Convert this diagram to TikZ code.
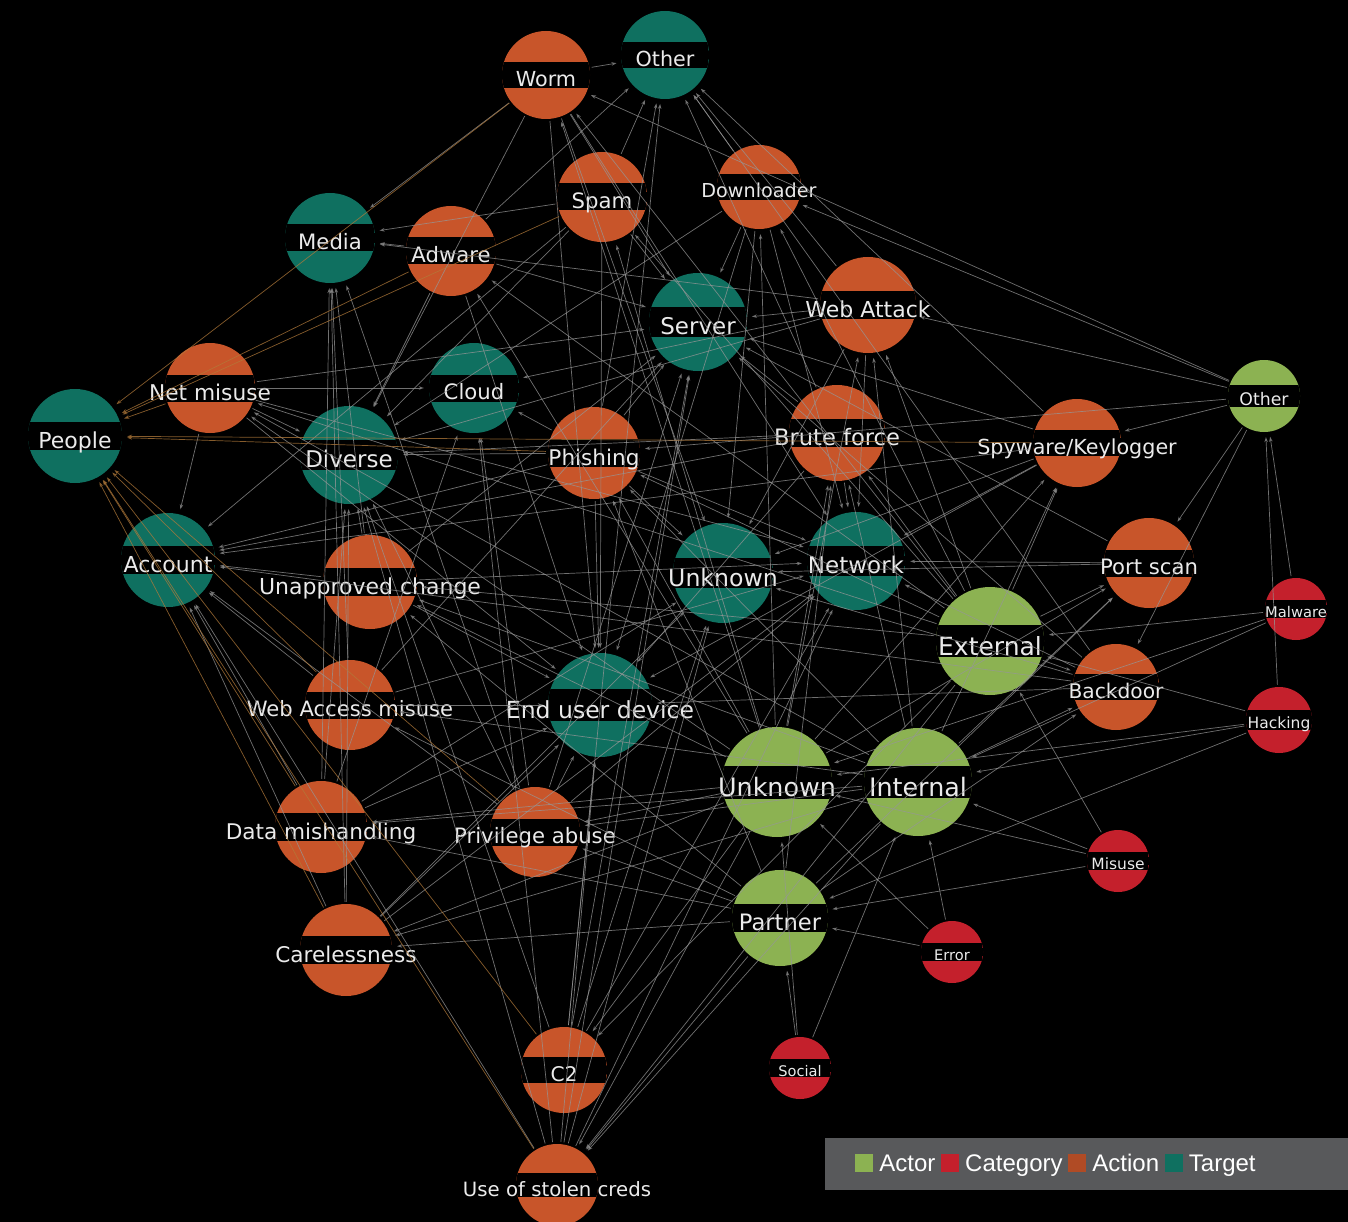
\documentclass[tikz,border=0pt]{standalone}
\usepackage{fontspec}
\setmainfont{DejaVu Sans}
\newfontfamily\legfont{Liberation Sans}
\usetikzlibrary{arrows.meta,positioning}
\definecolor{actc}{RGB}{200,85,42}
\definecolor{tgtc}{RGB}{15,112,96}
\definecolor{actorc}{RGB}{140,178,82}
\definecolor{catc}{RGB}{196,32,44}
\definecolor{lnkc}{RGB}{150,150,150}
\definecolor{lnkpc}{RGB}{178,122,58}
\definecolor{legbg}{RGB}{88,89,91}

\begin{document}
\begin{tikzpicture}[x=1pt,y=-1pt,
  vx/.style={circle,inner sep=0pt,minimum size=2*#1,
    path picture={\fill[black] ([yshift=0.3*#1]path picture bounding box.west)
      rectangle ([yshift=-0.3*#1]path picture bounding box.east);}},
  act/.style={fill=actc},
  tgt/.style={fill=tgtc},
  actor/.style={fill=actorc},
  cat/.style={fill=catc},
  fs/.style={font=\fontsize{#1}{#1}\selectfont,text height=1.13*#1,text depth=0,
    inner sep=0pt,text=white!92!black},
  lnk/.style={draw=lnkc,opacity=0.75,line width=0.7pt,shorten <=2pt,shorten >=5pt,
    -{Stealth[length=5pt,width=3.5pt]}},
  lnkp/.style={lnk,draw=lnkpc},
  lgsq/.style={minimum size=18,inner sep=0pt},
  lgtx/.style={font=\legfont\fontsize{24}{24}\selectfont,text=white,inner sep=0pt,
    text height=17.2,text depth=0}]
  \useasboundingbox (0,0) rectangle (1348,1222);
  \fill[black] (0,0) rectangle (1348,1222);

  \node[tgt,vx=44] (tOth) at (665,55) {};        \node[fs=20.7] (tOth-t) at (tOth) {Other};
  \node[tgt,vx=45] (media) at (330,238) {};      \node[fs=21.2] (media-t) at (media) {Media};
  \node[tgt,vx=49] (server) at (698,322) {};     \node[fs=23] (server-t) at (server) {Server};
  \node[tgt,vx=45] (cloud) at (474,388) {};      \node[fs=21.2] (cloud-t) at (cloud) {Cloud};
  \node[tgt,vx=47] (people) at (75,436) {};      \node[fs=22] (people-t) at (people) {People};
  \node[tgt,vx=49] (diverse) at (349,455) {};    \node[fs=23] (diverse-t) at (diverse) {Diverse};
  \node[tgt,vx=47] (account) at (168,560) {};    \node[fs=22] (account-t) at (account) {Account};
  \node[tgt,vx=50] (tUnk) at (723,573) {};       \node[fs=23.6] (tUnk-t) at (tUnk) {Unknown};
  \node[tgt,vx=49] (network) at (856,561) {};    \node[fs=23] (network-t) at (network) {Network};
  \node[tgt,vx=52] (eud) at (600,705) {};        \node[fs=23.5] (eud-t) at (eud) {End user device};

  \node[act,vx=44] (worm) at (546,75) {};        \node[fs=20.7] (worm-t) at (worm) {Worm};
  \node[act,vx=45] (spam) at (602,197) {};       \node[fs=21.2] (spam-t) at (spam) {Spam};
  \node[act,vx=42] (downl) at (759,187) {};      \node[fs=19.2] (downl-t) at (downl) {Downloader};
  \node[act,vx=45] (adware) at (451,251) {};     \node[fs=21.2] (adware-t) at (adware) {Adware};
  \node[act,vx=48] (webatk) at (868,305) {};     \node[fs=22] (webatk-t) at (webatk) {Web Attack};
  \node[act,vx=45] (netmis) at (210,388) {};     \node[fs=21.7] (netmis-t) at (netmis) {Net misuse};
  \node[act,vx=46] (phish) at (594,453) {};      \node[fs=21.6] (phish-t) at (phish) {Phishing};
  \node[act,vx=48] (brute) at (837,433) {};      \node[fs=22.6] (brute-t) at (brute) {Brute force};
  \node[act,vx=44] (spyware) at (1077,443) {};   \node[fs=20.7] (spyware-t) at (spyware) {Spyware/Keylogger};
  \node[act,vx=47] (unapp) at (370,582) {};      \node[fs=22] (unapp-t) at (unapp) {Unapproved change};
  \node[act,vx=45] (portscan) at (1149,563) {};  \node[fs=21.2] (portscan-t) at (portscan) {Port scan};
  \node[act,vx=43] (backdoor) at (1116,687) {};  \node[fs=20.2] (backdoor-t) at (backdoor) {Backdoor};
  \node[act,vx=45] (webacc) at (350,705) {};     \node[fs=21.1] (webacc-t) at (webacc) {Web Access misuse};
  \node[act,vx=46] (datamis) at (321,827) {};    \node[fs=21.6] (datamis-t) at (datamis) {Data mishandling};
  \node[act,vx=45] (priv) at (535,832) {};       \node[fs=21.2] (priv-t) at (priv) {Privilege abuse};
  \node[act,vx=46] (careless) at (346,950) {};   \node[fs=21.6] (careless-t) at (careless) {Carelessness};
  \node[act,vx=43] (ctwo) at (564,1070) {};      \node[fs=20.2] (ctwo-t) at (ctwo) {C2};
  \node[act,vx=41] (stolen) at (557,1185) {};    \node[fs=19.7] (stolen-t) at (stolen) {Use of stolen creds};

  \node[actor,vx=36] (aOth) at (1264,396) {};    \node[fs=17.3] (aOth-t) at (aOth) {Other};
  \node[actor,vx=54] (aExt) at (990,641) {};     \node[fs=25] (aExt-t) at (aExt) {External};
  \node[actor,vx=55] (aUnk) at (777,782) {};     \node[fs=25.4] (aUnk-t) at (aUnk) {Unknown};
  \node[actor,vx=54] (aInt) at (918,782) {};     \node[fs=25.4] (aInt-t) at (aInt) {Internal};
  \node[actor,vx=48] (aPar) at (780,918) {};     \node[fs=22.6] (aPar-t) at (aPar) {Partner};

  \node[cat,vx=31] (cMal) at (1296,609) {};      \node[fs=14.7] (cMal-t) at (cMal) {Malware};
  \node[cat,vx=33] (cHack) at (1279,720) {};     \node[fs=15.5] (cHack-t) at (cHack) {Hacking};
  \node[cat,vx=31] (cMis) at (1118,861) {};      \node[fs=15.5] (cMis-t) at (cMis) {Misuse};
  \node[cat,vx=31] (cErr) at (952,952) {};       \node[fs=14.6] (cErr-t) at (cErr) {Error};
  \node[cat,vx=31] (cSoc) at (800,1068) {};      \node[fs=14.6] (cSoc-t) at (cSoc) {Social};

  \path[lnk]
  (cMal) edge (aOth) edge (aExt) edge (aInt) edge (aUnk)
  (cHack) edge (aOth) edge (aExt) edge (aInt) edge (aUnk) edge (aPar)
  (cMis) edge (aInt) edge (aPar) edge (aUnk) edge (aExt)
  (cErr) edge (aInt) edge (aPar) edge (aUnk)
  (cSoc) edge (aPar) edge (aInt) edge (aUnk)
  (aExt) edge (worm) edge (spam) edge (downl) edge (adware) edge (webatk) edge (phish) edge (brute)
  edge (spyware) edge (portscan) edge (backdoor) edge (ctwo) edge (stolen) edge (netmis) edge (unapp)
  (aInt) edge (netmis) edge (unapp) edge (webacc) edge (datamis) edge (priv) edge (careless)
  edge (stolen) edge (spyware) edge (backdoor) edge (brute) edge (phish) edge (portscan) edge (webatk)
  (aPar) edge (datamis) edge (priv) edge (careless) edge (stolen) edge (webacc) edge (unapp)
  edge (backdoor) edge (portscan) edge (phish) edge (brute)
  (aUnk) edge (worm) edge (spam) edge (downl) edge (adware) edge (webatk) edge (phish) edge (brute)
  edge (spyware) edge (ctwo) edge (stolen) edge (careless) edge (datamis) edge (priv) edge (portscan)
  edge (netmis) edge (unapp)
  (aOth) edge (spyware) edge (portscan) edge (webatk) edge (worm) edge (downl) edge (phish) edge (backdoor)
  (worm) edge (tOth) edge (server) edge (network) edge (eud) edge (diverse) edge (media) edge (tUnk)
  (spam) edge (tOth) edge (media) edge (server) edge (eud) edge (account) edge (diverse)
  (downl) edge (tOth) edge (server) edge (eud) edge (network) edge (diverse) edge (tUnk)
  (adware) edge (media) edge (eud) edge (tOth) edge (diverse) edge (server)
  (webatk) edge (server) edge (tOth) edge (cloud) edge (media) edge (diverse) edge (tUnk) edge (network)
  (netmis) edge (network) edge (eud) edge (diverse) edge (account) edge (cloud) edge (server)
  (phish) edge (account) edge (eud) edge (server) edge (diverse) edge (tUnk) edge (cloud) edge (tOth)
  edge (network)
  (brute) edge (server) edge (account) edge (network) edge (tOth) edge (diverse) edge (eud)
  (spyware) edge (eud) edge (account) edge (tOth) edge (tUnk) edge (server) edge (network)
  (unapp) edge (server) edge (network) edge (eud) edge (diverse) edge (account) edge (media)
  (portscan) edge (network) edge (server) edge (tUnk)
  (backdoor) edge (server) edge (eud) edge (network) edge (tUnk) edge (tOth) edge (account)
  (webacc) edge (network) edge (eud) edge (account) edge (media) edge (server)
  (datamis) edge (media) edge (diverse) edge (account) edge (eud) edge (cloud) edge (tUnk)
  (priv) edge (account) edge (server) edge (diverse) edge (eud) edge (media) edge (cloud) edge (network)
  (careless) edge (media) edge (diverse) edge (account) edge (eud) edge (tUnk) edge (network)
  (ctwo) edge (server) edge (eud) edge (network) edge (tOth) edge (diverse) edge (tUnk)
  (stolen) edge (account) edge (server) edge (cloud) edge (eud) edge (diverse) edge (tUnk) edge (network)
  ;
  \path[lnkp]
  (worm) edge (people) (spam) edge (people) (adware) edge (people) (netmis) edge (people)
  (phish) edge (people) (spyware) edge (people) (webacc) edge (people) (datamis) edge (people)
  (priv) edge (people) (careless) edge (people) (ctwo) edge (people) (stolen) edge (people)
  ;

  \fill[legbg] (825,1138) rectangle (1348,1190);
  \node[lgsq,fill=actorc] (lgactor) at (864,1163) {};
  \node[lgtx,right=6pt of lgactor] (lgactor-t) {Actor};
  \node[lgsq,fill=catc,right=5pt of lgactor-t] (lgcat) {};
  \node[lgtx,right=6pt of lgcat] (lgcat-t) {Category};
  \node[lgsq,fill=actc!88!black,right=5pt of lgcat-t] (lgact) {};
  \node[lgtx,right=6pt of lgact] (lgact-t) {Action};
  \node[lgsq,fill=tgtc,right=5pt of lgact-t] (lgtgt) {};
  \node[lgtx,right=6pt of lgtgt] (lgtgt-t) {Target};
\end{tikzpicture}
\end{document}
